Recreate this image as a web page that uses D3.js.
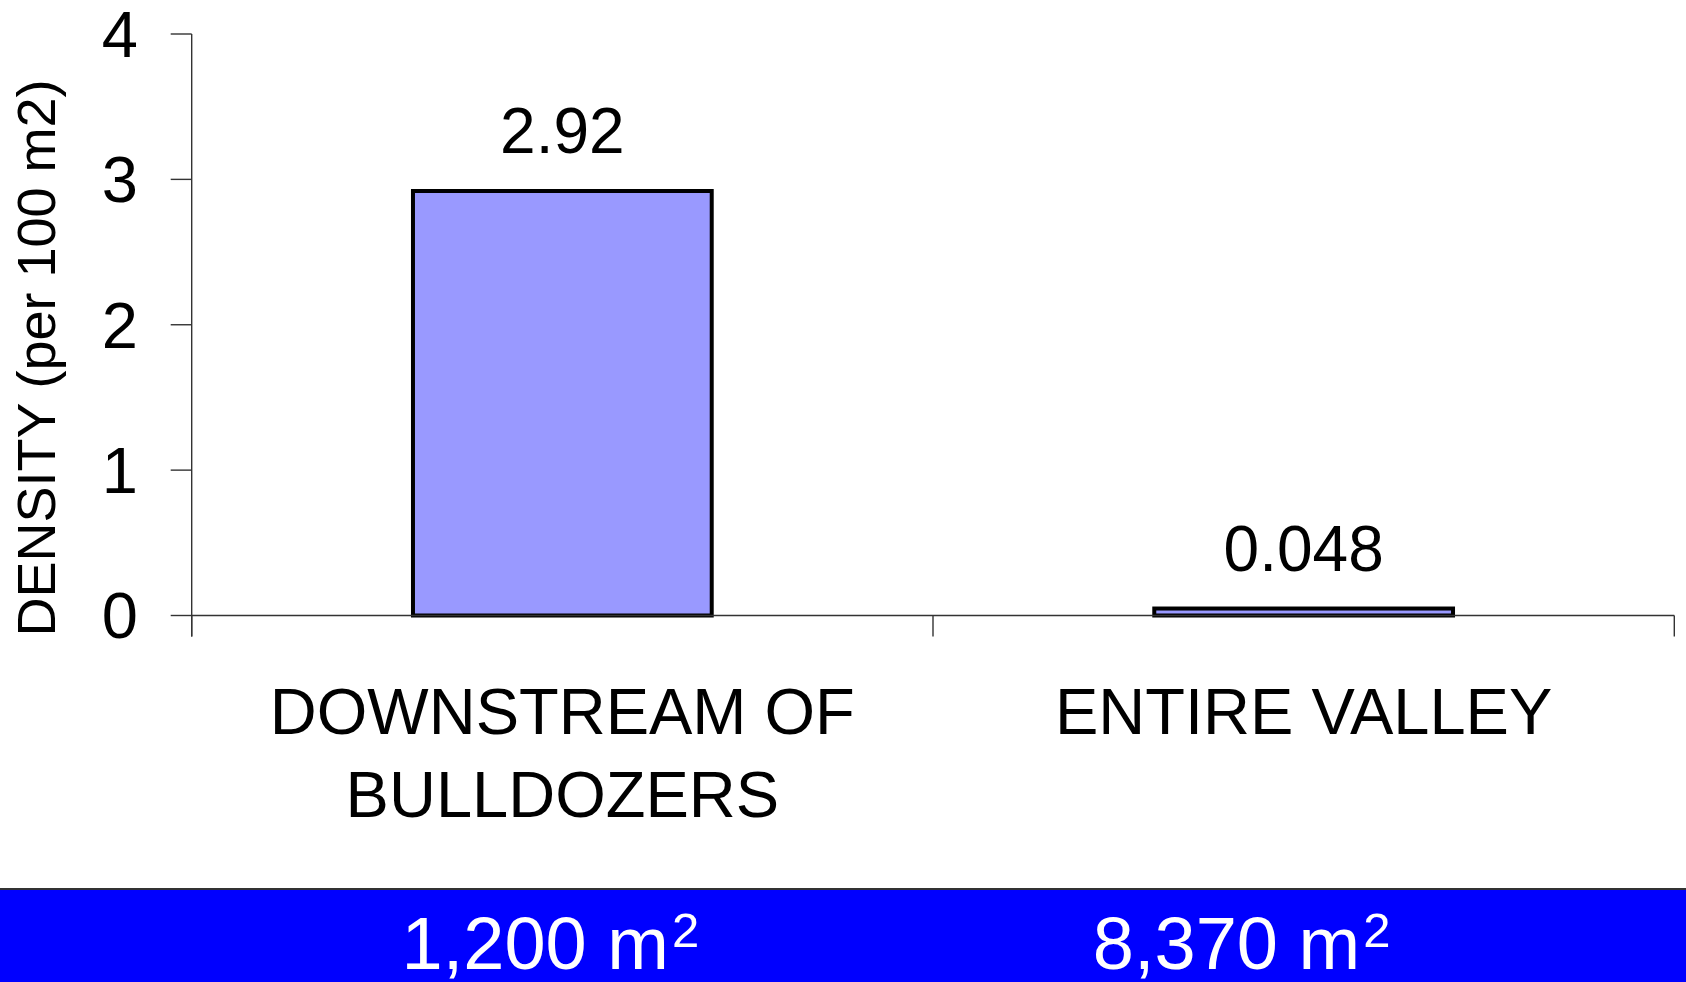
<!DOCTYPE html>
<html>
<head>
<meta charset="utf-8">
<script src="https://cdn.jsdelivr.net/npm/d3@7"></script>
<style>
  html, body { margin: 0; padding: 0; background: #fff; }
  svg { display: block; font-family: Arial, "Liberation Sans", sans-serif; }
</style>
</head>
<body>
<svg id="chart"></svg>
<script>
// Data
const categories = [["DOWNSTREAM OF", "BULLDOZERS"], ["ENTIRE VALLEY"]];
const values = [2.92, 0.048];
const valueLabels = ["2.92", "0.048"];
const yTicks = [0, 1, 2, 3, 4];
const areas = ["1,200", "8,370"];

const width = 1686;
const height = 982;
const plotLeft = 191.7;
const plotRight = 1674.3;
const plotTop = 34;
const plotBottom = 615.5;

let svg = d3.select("#chart").attr("width", width).attr("height", height);

let x = d3.scaleBand()
  .domain(d3.range(values.length))
  .range([plotLeft, plotRight])
  .padding(0);

let y = d3.scaleLinear().domain([0, 4]).range([plotBottom, plotTop]);

// y axis
svg.append("line")
  .attr("x1", plotLeft).attr("x2", plotLeft)
  .attr("y1", plotTop).attr("y2", plotBottom + 21)
  .attr("stroke", "#333").attr("stroke-width", 1.4);

svg.selectAll(".ytick")
  .data(yTicks)
  .enter()
  .append("line")
  .attr("x1", plotLeft - 21).attr("x2", plotLeft)
  .attr("y1", (d) => y(d)).attr("y2", (d) => y(d))
  .attr("stroke", "#333").attr("stroke-width", 1.4);

svg.selectAll(".ylabel")
  .data(yTicks)
  .enter()
  .append("text")
  .attr("x", 138)
  .attr("y", (d) => y(d))
  .attr("dy", "0.35em")
  .attr("text-anchor", "end")
  .attr("font-size", 65)
  .text((d) => d);

svg.append("text")
  .attr("transform", "translate(55," + 358 + ") rotate(-90)")
  .attr("text-anchor", "middle")
  .attr("font-size", 54)
  .text("DENSITY (per 100 m2)");

// bars
let barW = x.bandwidth() * 0.403;
svg.selectAll(".bar")
  .data(values)
  .enter()
  .append("rect")
  .attr("class", "bar")
  .attr("x", (d, i) => x(i) + x.bandwidth() / 2 - barW / 2)
  .attr("y", (d) => y(d))
  .attr("width", barW)
  .attr("height", (d) => y(0) - y(d))
  .attr("fill", "#9999FF")
  .attr("stroke", "#000")
  .attr("stroke-width", 4);

svg.selectAll(".vlabel")
  .data(values)
  .enter()
  .append("text")
  .attr("x", (d, i) => x(i) + x.bandwidth() / 2)
  .attr("y", (d) => y(d) - 38)
  .attr("text-anchor", "middle")
  .attr("font-size", 64)
  .text((d, i) => valueLabels[i]);

// x axis
svg.append("line")
  .attr("x1", plotLeft).attr("x2", plotRight)
  .attr("y1", plotBottom).attr("y2", plotBottom)
  .attr("stroke", "#333").attr("stroke-width", 1.4);

let bounds = x.domain().map((i) => x(i)).concat([plotRight]);
svg.selectAll(".xtick")
  .data(bounds)
  .enter()
  .append("line")
  .attr("x1", (d) => d).attr("x2", (d) => d)
  .attr("y1", plotBottom).attr("y2", plotBottom + 21)
  .attr("stroke", "#333").attr("stroke-width", 1.4);

categories.forEach((lines, i) => {
  let t = svg.append("text")
    .attr("text-anchor", "middle")
    .attr("font-size", 65)
    .attr("x", x(i) + x.bandwidth() / 2)
    .attr("y", 734);
  lines.forEach((l, j) => {
    t.append("tspan")
      .attr("x", x(i) + x.bandwidth() / 2)
      .attr("dy", j === 0 ? 0 : 82.5)
      .text(l);
  });
});

// blue area band
svg.append("rect")
  .attr("x", 0).attr("y", 889)
  .attr("width", width).attr("height", height - 889)
  .attr("fill", "#0000FF");
svg.append("line")
  .attr("x1", 0).attr("x2", width)
  .attr("y1", 889).attr("y2", 889)
  .attr("stroke", "#333").attr("stroke-width", 2);

const areaShift = [-12, -62];
areas.forEach((a, i) => {
  let t = svg.append("text")
    .attr("x", x(i) + x.bandwidth() / 2 + areaShift[i])
    .attr("y", 969)
    .attr("text-anchor", "middle")
    .attr("font-size", 74)
    .attr("fill", "#fff");
  t.append("tspan").text(a + " m");
  t.append("tspan")
    .attr("font-size", 49)
    .attr("dx", 3)
    .attr("dy", -22)
    .text("2");
});
</script>
</body>
</html>
